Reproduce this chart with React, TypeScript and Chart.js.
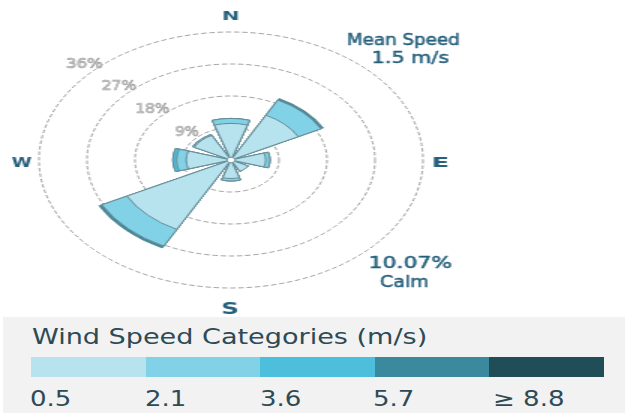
import React, { useEffect, useRef } from 'react';
import { Chart, registerables } from 'chart.js';

Chart.register(...registerables);

// ---- data ----
const directions = ['N', 'NE', 'E', 'SE', 'S', 'SW', 'W', 'NW'];
const speedBinLabels = ['0.5', '2.1', '3.6', '5.7', '≥ 8.8'];
const speedBinColors = ['#b7e3ef', '#82d2e7', '#4dbfdc', '#3b899c', '#1f4d58'];
const freqBin1 = [10.3, 14.2, 6.5, 3.6, 5.2, 22.0, 8.4, 7.8];
const freqBin2 = [1.4, 4.8, 0.8, 0, 0.7, 5.3, 1.8, 0.3];
const freqBin3 = [0, 0, 0, 0, 0, 0, 0.7, 0];
const freqBin4 = [0, 0.5, 0, 0, 0, 0.6, 0, 0];
const freqBin5 = [0, 0, 0, 0, 0, 0, 0, 0];
const ringTicks = [9, 18, 27, 36];
const meanSpeedLines = ['Mean Speed', '1.5 m/s'];
const calmLines = ['10.07%', 'Calm'];
const legendTitle = 'Wind Speed Categories (m/s)';

// ---- layout / style ----
const STRETCH = 1.5;
const WEDGE = 35;
const GAP = 10;
const CANVAS_W = 312;
const CANVAS_H = 318;
const TEXT_COLOR = '#25607c';
const FONT = '"DejaVu Sans", Verdana, sans-serif';

const bins = [freqBin1, freqBin2, freqBin3, freqBin4, freqBin5];

function inkText(
  ctx: CanvasRenderingContext2D,
  text: string,
  font: string,
  color: string,
  cx: number,
  baseline: number,
  targetPageW: number,
  stroke?: string,
  strokeW = 0.6
) {
  ctx.save();
  ctx.font = font;
  ctx.textAlign = 'left';
  ctx.textBaseline = 'alphabetic';
  const m = ctx.measureText(text);
  const ink = m.actualBoundingBoxLeft + m.actualBoundingBoxRight;
  const sx = targetPageW / STRETCH / ink;
  ctx.translate(cx, baseline);
  ctx.scale(sx, 1);
  const x0 = -(m.actualBoundingBoxRight - m.actualBoundingBoxLeft) / 2;
  ctx.fillStyle = color;
  ctx.fillText(text, x0, 0);
  if (stroke) {
    ctx.strokeStyle = stroke;
    ctx.lineWidth = strokeW;
    ctx.lineJoin = 'round';
    ctx.strokeText(text, x0, 0);
  }
  ctx.restore();
}

const annotatePlugin = {
  id: 'annotate',
  afterDraw(chart: any) {
    const ctx: CanvasRenderingContext2D = chart.ctx;
    const r = chart.scales.r;
    const xC = r.xCenter;
    const yC = r.yCenter;
    // center hub
    ctx.save();
    ctx.beginPath();
    ctx.arc(xC, yC, 2.2, 0, Math.PI * 2);
    ctx.fillStyle = '#ffffff';
    ctx.fill();
    ctx.restore();
    // ring labels along NW
    const ringW = [24, 33, 35, 36];
    ringTicks.forEach((v, i) => {
      const d = r.getDistanceFromCenterForValue(v) + 9.5;
      const x = xC - d * Math.SQRT1_2;
      const y = yC - d * Math.SQRT1_2;
      inkText(ctx, `${v}%`, `13.5px ${FONT}`, '#d6d6d6', x, y + 5, ringW[i], '#a0a0a0', 0.7);
    });
    // compass letters
    const R = r.drawingArea;
    inkText(ctx, 'N', `bold 12.5px ${FONT}`, TEXT_COLOR, xC, yC - R - 12, 15);
    inkText(ctx, 'S', `bold 15px ${FONT}`, TEXT_COLOR, xC - 0.5, yC + R + 25.5, 14.7);
    inkText(ctx, 'W', `bold 13.7px ${FONT}`, TEXT_COLOR, xC - R - 11.5, yC + 6.7, 20);
    inkText(ctx, 'E', `bold 13.7px ${FONT}`, TEXT_COLOR, xC + R + 12, yC + 6.7, 15);
    // info texts
    inkText(ctx, meanSpeedLines[0], `15px ${FONT}`, TEXT_COLOR, 269, 45, 111, TEXT_COLOR, 0.5);
    inkText(ctx, meanSpeedLines[1], `15.5px ${FONT}`, TEXT_COLOR, 274, 63.3, 76, TEXT_COLOR, 0.5);
    inkText(ctx, calmLines[0], `16px ${FONT}`, TEXT_COLOR, 274, 268.3, 82, TEXT_COLOR, 0.5);
    inkText(ctx, calmLines[1], `16px ${FONT}`, TEXT_COLOR, 269.3, 286.7, 48, TEXT_COLOR, 0.5);
  },
};

export default function App() {
  const ref = useRef<HTMLCanvasElement>(null);

  useEffect(() => {
    if (!ref.current) return;
    const labels16 = directions.flatMap((d) => [d, '']);
    const datasets = bins
      .map((_, k) => {
        const cum = directions.map((__, i) =>
          bins.slice(0, k + 1).reduce((s, b) => s + b[i], 0)
        );
        return {
          label: speedBinLabels[k],
          data: cum.flatMap((v) => [v, 0]),
          backgroundColor: speedBinColors[k],
          borderColor: '#668c96',
          borderWidth: (c: any) => (c.dataIndex % 2 === 0 ? 1 : 0),
          angle: (c: any) => (c.dataIndex % 2 === 0 ? WEDGE : GAP),
          hasValues: bins[k].some((v) => v > 0),
        };
      })
      .filter((d) => d.hasValues);

    const chart = new Chart(ref.current, {
      type: 'polarArea',
      data: { labels: labels16, datasets: datasets as any },
      options: {
        responsive: false,
        animation: false,
        devicePixelRatio: 1,
        events: [],
        layout: { padding: { left: 26, top: 32, right: CANVAS_W - 26 - 256, bottom: CANVAS_H - 32 - 256 } },
        plugins: { legend: { display: false }, tooltip: { enabled: false } },
        scales: {
          r: {
            min: 0,
            max: 36,
            startAngle: -WEDGE / 2,
            ticks: { display: false, stepSize: 9 },
            grid: { circular: true, color: '#9c9c9c', lineWidth: 1 },
            border: { dash: [3.5, 2] },
            angleLines: { display: false },
            pointLabels: { display: false },
          },
        },
      } as any,
      plugins: [annotatePlugin],
    });
    return () => chart.destroy();
  }, []);

  const segW = 573 / speedBinColors.length;
  const tickLeft = [30, 145, 259.5, 373, 493];

  return (
    <div
      style={{
        position: 'absolute',
        left: 0,
        top: 0,
        width: 625,
        height: 413,
        background: '#ffffff',
        overflow: 'hidden',
        fontFamily: FONT,
      }}
    >
      <canvas
        ref={ref}
        width={CANVAS_W}
        height={CANVAS_H}
        style={{
          position: 'absolute',
          left: 0,
          top: 0,
          width: CANVAS_W,
          height: CANVAS_H,
          transform: `scaleX(${STRETCH})`,
          transformOrigin: '0 0',
        }}
      />
      <div
        style={{
          position: 'absolute',
          left: 3,
          top: 317,
          width: 622,
          height: 96,
          background: '#f2f2f2',
        }}
      />
      <div
        style={{
          position: 'absolute',
          left: 32,
          top: 326.4,
          fontSize: 22,
          lineHeight: '22px',
          color: '#2d4a55',
          whiteSpace: 'nowrap',
          transform: 'scaleX(1.23)',
          transformOrigin: '0 0',
        }}
      >
        {legendTitle}
      </div>
      <div style={{ position: 'absolute', left: 31, top: 357, width: 573, height: 20, display: 'flex' }}>
        {speedBinColors.map((c, i) => (
          <div key={i} style={{ width: segW, height: 20, background: c }} />
        ))}
      </div>
      {speedBinLabels.map((t, i) => (
        <div
          key={t}
          style={{
            position: 'absolute',
            left: tickLeft[i],
            top: 389.3,
            fontSize: 20.5,
            lineHeight: '20.5px',
            color: '#2d4a55',
            whiteSpace: 'nowrap',
            transform: 'scaleX(1.27)',
            transformOrigin: '0 0',
          }}
        >
          {t}
        </div>
      ))}
    </div>
  );
}
